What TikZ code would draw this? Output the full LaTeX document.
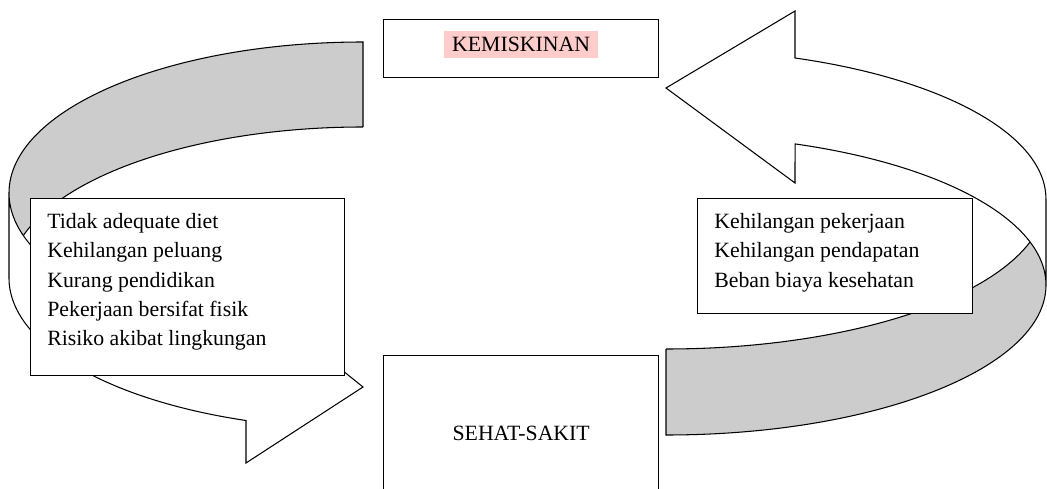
\documentclass[tikz,border=0pt]{standalone}
\usepackage{fontspec}
\setmainfont{Liberation Serif}
\usetikzlibrary{positioning, calc}
\definecolor{bandgray}{RGB}{204,204,204}
\definecolor{marker}{RGB}{255,204,204}
\newcommand{\diagfont}{\fontsize{12.4}{16.7}\selectfont}
\tikzset{
  box/.style={draw, fill=white, line width=0.8pt, inner sep=0pt, font=\diagfont},
  items/.style={align=left, inner sep=0pt, anchor=north west, font=\diagfont},
  back/.style={fill=bandgray},
  front/.style={fill=white},
  rim/.style={line width=0.6pt, line join=miter}
}
\begin{document}
\begin{tikzpicture}[x=0.02cm, y=-0.02cm]
  \useasboundingbox (0,0) rectangle (1047,489);
  \clip (0,0) rectangle (1047,489);
  % Left curved arrow, back part
  \fill[back] (363,42) arc[start angle=270, end angle=163.65, x radius=354, y radius=151]
    arc[start angle=196.35, end angle=270, x radius=354, y radius=151] -- cycle;
  % Left curved arrow, front part with head
  \filldraw[front, rim] (9,193) arc[start angle=180, end angle=109.3, x radius=354, y radius=151]
    -- (246,293) -- (363,387) -- (246,463) -- (246,420.5)
    arc[start angle=109.3, end angle=180, x radius=354, y radius=151] -- cycle;
  \draw[rim] (363,127) -- (363,42) arc[start angle=270, end angle=180, x radius=354, y radius=151];
  \draw[rim] (363,127) arc[start angle=270, end angle=196.35, x radius=354, y radius=151];
  % Right curved arrow, back part
  \fill[back] (666,435) arc[start angle=90, end angle=-16.66, x radius=380, y radius=150]
    arc[start angle=16.66, end angle=90, x radius=380, y radius=150] -- cycle;
  % Right curved arrow, front part with head
  \filldraw[front, rim] (1046,285) arc[start angle=0, end angle=-70.15, x radius=380, y radius=150]
    -- (795,183) -- (666,88) -- (795,11) -- (795,58)
    arc[start angle=-70.15, end angle=0, x radius=380, y radius=150] -- cycle;
  \draw[rim] (666,349) -- (666,435) arc[start angle=90, end angle=0, x radius=380, y radius=150];
  \draw[rim] (666,349) arc[start angle=90, end angle=16.66, x radius=380, y radius=150];
  % Boxes
  \node[box, minimum width=5.5cm, minimum height=1.16cm, anchor=north west] (kemiskinan) at (383,19) {};
  \node[fill=marker, inner xsep=4.5pt, inner ysep=0pt, minimum height=0.54cm, font=\diagfont]
    (kemiskinanlabel) at ($(kemiskinan.center)+(0,-4.5)$) {KEMISKINAN};
  \node[box, minimum width=5.5cm, minimum height=3.12cm, anchor=north west] (sehat) at (383,355) {SEHAT-SAKIT};
  \node[box, minimum width=6.28cm, minimum height=3.54cm, anchor=north west] (sebab) at (30,198) {};
  \node[items] (sebabitems) at ($(sebab.north west)+(17,15)$)
    {Tidak adequate diet\\Kehilangan peluang\\Kurang pendidikan\\Pekerjaan bersifat fisik\\Risiko akibat lingkungan};
  \node[box, minimum width=5.5cm, minimum height=2.3cm, anchor=north west] (akibat) at (697,198) {};
  \node[items] (akibatitems) at ($(akibat.north west)+(17,15)$)
    {Kehilangan pekerjaan\\Kehilangan pendapatan\\Beban biaya kesehatan};
\end{tikzpicture}
\end{document}
